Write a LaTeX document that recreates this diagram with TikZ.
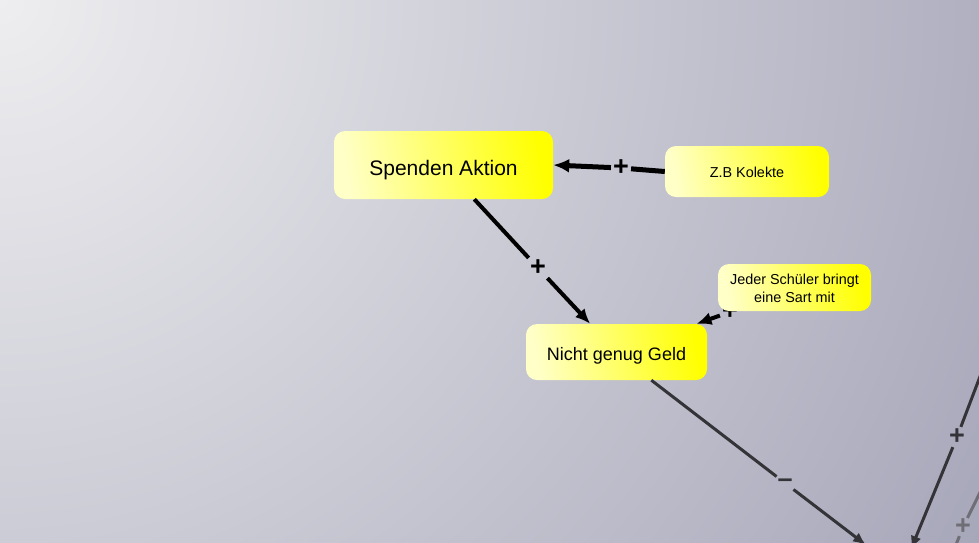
\documentclass[tikz,border=0pt]{standalone}
\usepackage{fontspec}
\setmainfont{Liberation Sans}
\usetikzlibrary{arrows.meta}
\definecolor{bgA}{RGB}{238,238,240}
\definecolor{bgB}{RGB}{167,167,186}
\definecolor{ylight}{RGB}{255,255,200}
\definecolor{edgedark}{RGB}{52,52,56}
\definecolor{edgegrey}{RGB}{110,110,118}
\newcommand{\dropby}[2]{\raisebox{-#1}[\height][\depth]{#2}}
\tikzset{
  box/.style={rounded corners=11pt, left color=ylight, right color=yellow, shading angle=100,
    align=center, text=black, inner sep=0pt},
  plus/.style={font=\bfseries\fontsize{27}{27}\selectfont, inner sep=2pt},
  conn/.style={line width=5pt, -{Latex[length=16pt,width=14pt]}},
  connB/.style={line width=4pt, -{Latex[length=15pt,width=13pt]}},
  connC/.style={line width=3pt, draw=edgedark, -{Latex[length=13pt,width=11pt]}},
}
\begin{document}
\begin{tikzpicture}[x=1pt,y=-1pt]
\useasboundingbox (0,0) rectangle (979,542);
\clip (0,0) rectangle (979,542);
\shade[inner color=bgA, outer color=bgB] (0,0) circle (1120pt);

% main nodes
\node[box, minimum width=219pt, minimum height=68pt, font=\fontsize{21}{24}\selectfont] (spenden) at (443.5,165) {\dropby{5pt}{Spenden Aktion}};
\node[box, minimum width=164pt, minimum height=51pt, font=\fontsize{14.4}{17}\selectfont] (kolekte) at (747,171.5) {\dropby{1pt}{Z.B Kolekte}};
\node[box, minimum width=181pt, minimum height=56pt, font=\fontsize{18}{21}\selectfont] (nicht) at (616.5,352) {\dropby{4pt}{Nicht genug Geld}};

% labels
\node[plus] (l1) at (621,168) {+};
\node[plus] (l2) at (538,268) {+};
\node[plus] (l3) at (730,312) {+};
\node[plus, text=edgedark] (l4) at (785,483) {–};
\node[plus, text=edgedark] (l5) at (957,437) {+};
\node[plus, text=edgegrey, inner sep=1pt] (l6) at (963,527) {+};

% off-frame coordinates
\coordinate (o4) at (866,545);
\coordinate (o5a) at (992,345);
\coordinate (o5b) at (911,549);
\coordinate (o6a) at (995,462);
\coordinate (o6b) at (950,560);

% connectors
\draw[line width=5pt] (kolekte.west) -- (l1);
\draw[conn] (l1) -- (spenden.east);
\draw[line width=4pt] (spenden.-48) -- (l2);
\draw[connB] (l2) -- (nicht.133);
\draw[connB] (l3) -- (nicht);
\draw[line width=3pt, draw=edgedark] (nicht.-39) -- (l4);
\draw[connC] (l4) -- (o4);
\draw[line width=3pt, draw=edgedark] (o5a) -- (l5);
\draw[connC] (l5) -- (o5b);
\draw[line width=3pt, draw=edgegrey] (o6a) -- (l6);
\draw[line width=3pt, draw=edgegrey] (l6) -- (o6b);

% node drawn last (covers top of its label)
\node[box, minimum width=153pt, minimum height=47pt, font=\fontsize{14.4}{18}\selectfont] (jeder) at (794.5,287.5) {\dropby{2pt}{\begin{tabular}{@{}c@{}}Jeder Schüler bringt\\eine Sart mit\end{tabular}}};
\end{tikzpicture}
\end{document}
